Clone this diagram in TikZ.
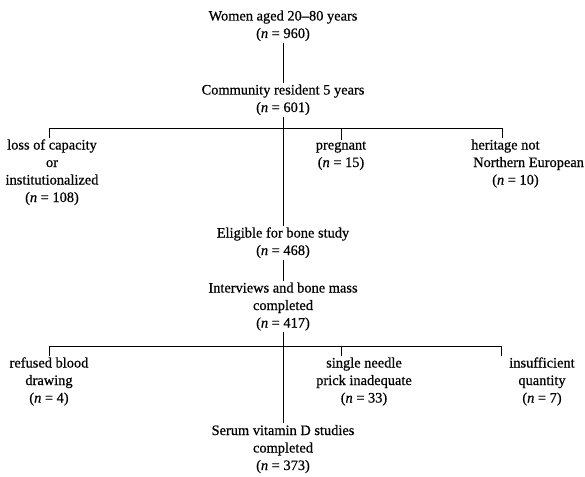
\documentclass[tikz,border=0pt]{standalone}
\usepackage{fontspec}
\setmainfont{Liberation Serif}[FakeBold=0.6]
\begin{document}
\begin{tikzpicture}[x=1pt,y=-1pt,
  lbl/.style={align=center, inner sep=1.5pt, anchor=base,
              font=\fontsize{14.4}{17.5}\selectfont},
  conn/.style={line width=0.8pt, draw=black}]
\useasboundingbox (0,0) rectangle (585,476);

% main column (positions give the baseline of the last line)
\node[lbl] (women)  at (283,38)    {Women aged 20--80 years\\(\textit{n} = 960)};
\node[lbl] (comm)   at (283,112)   {Community resident 5 years\\(\textit{n} = 601)};
\node[lbl] (elig)   at (283,255)   {Eligible for bone study\\(\textit{n} = 468)};
\node[lbl] (interv) at (283,327.5) {Interviews and bone mass\\completed\\(\textit{n} = 417)};
\node[lbl] (serum)  at (283,470)   {Serum vitamin D studies\\completed\\(\textit{n} = 373)};

% first exclusions
\node[lbl] (loss)  at (52,202)  {loss of capacity\\or\\institutionalized\\(\textit{n} = 108)};
\node[lbl] (preg)  at (341,167) {pregnant\\(\textit{n} = 15)};
\node[lbl, align=left, anchor=base west] (herit) at (469.5,184.5)
      {heritage not\\\hspace*{2pt}Northern European\\\hspace*{21pt}(\textit{n} = 10)};

% second exclusions
\node[lbl] (refused) at (49,402.5)  {refused blood\\drawing\\(\textit{n} = 4)};
\node[lbl] (needle)  at (364,402.5) {single needle\\prick inadequate\\(\textit{n} = 33)};
\node[lbl] (insuf)   at (542,402.5) {insufficient\\quantity\\(\textit{n} = 7)};

% bar coordinates
\coordinate (b1L) at (49,128);
\coordinate (b1M) at (341,128);
\coordinate (b1R) at (502,128);
\coordinate (b2L) at (49,346);
\coordinate (b2M) at (341,346);
\coordinate (b2R) at (501,346);

% main connectors
\draw[conn] (women) -- (comm);
\draw[conn] (comm) -- (elig);
\draw[conn] (elig) -- (interv);
\draw[conn] (interv) -- (serum);

% branch bars and ticks
\draw[conn] (b1L) -- (b1R);
\draw[conn] (b1L) -- (b1L |- loss.north);
\draw[conn] (b1M) -- (b1M |- preg.north);
\draw[conn] (b1R) -- (b1R |- herit.north);

\draw[conn] (b2L) -- (b2R);
\draw[conn] (b2L) -- (b2L |- refused.north);
\draw[conn] (b2M) -- (b2M |- needle.north);
\draw[conn] (b2R) -- (b2R |- insuf.north);
\end{tikzpicture}
\end{document}
